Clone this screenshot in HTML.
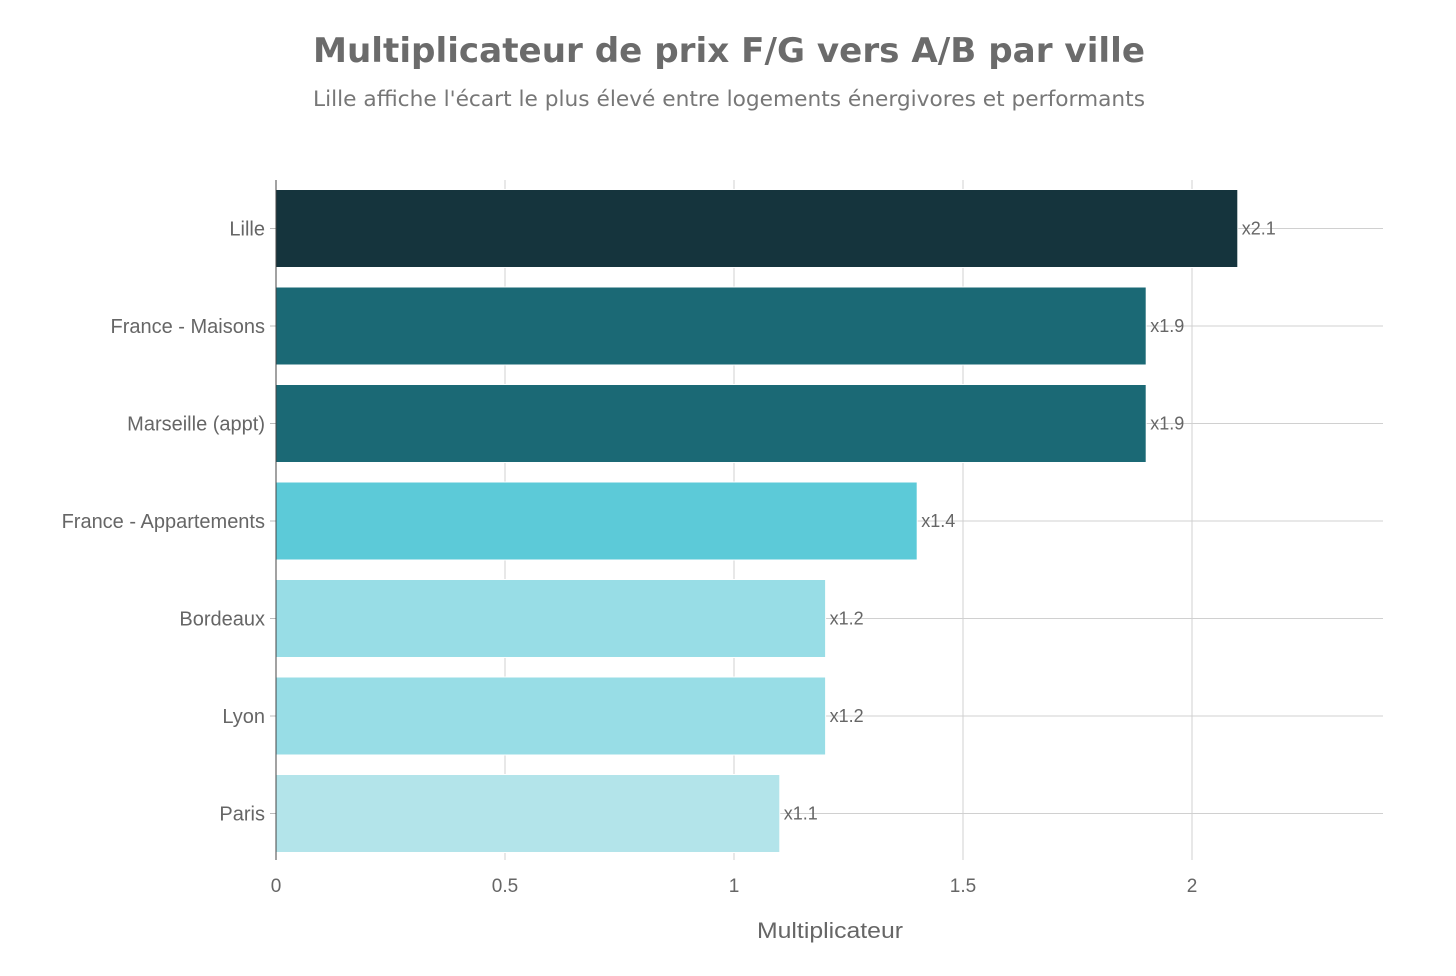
<!DOCTYPE html>
<html><head><meta charset="utf-8"><style>
body{margin:0;background:#fff;}
svg text{font-family:"Liberation Sans",sans-serif;}
</style></head><body>
<svg id="chart" width="1456" height="971" xmlns="http://www.w3.org/2000/svg">
<text x="729" y="62" text-anchor="middle" font-size="34" font-weight="bold" fill="#6b6b6b" textLength="832" lengthAdjust="spacingAndGlyphs" style="font-family:'DejaVu Sans',sans-serif">Multiplicateur de prix F/G vers A/B par ville</text>
<text x="729" y="106" text-anchor="middle" font-size="21" fill="#777" textLength="832" lengthAdjust="spacingAndGlyphs" style="font-family:'DejaVu Sans',sans-serif">Lille affiche l'écart le plus élevé entre logements énergivores et performants</text>
<g id="grid"></g><g id="bars"></g><g id="labels"></g>
<text x="830" y="938" text-anchor="middle" font-size="22" fill="#666" textLength="146" lengthAdjust="spacingAndGlyphs">Multiplicateur</text>
</svg>
<script>
const categories=["Lille","France - Maisons","Marseille (appt)","France - Appartements","Bordeaux","Lyon","Paris"];
const values=[2.1,1.9,1.9,1.4,1.2,1.2,1.1];
const valueLabels=["x2.1","x1.9","x1.9","x1.4","x1.2","x1.2","x1.1"];
const colors=["#15343d","#1b6975","#1b6975","#5ccad8","#98dde6","#98dde6","#b3e4ea"];
const xTicks=[0,0.5,1,1.5,2];
const xTickLabels=["0","0.5","1","1.5","2"];
const NS="http://www.w3.org/2000/svg";
const x0=276,ppu=458,plotRight=1383,top0=180,step=97.5,barH=78;
const xs=v=>x0+v*ppu;
const yc=i=>top0+48.5+i*step;
function mk(t,a,p){const e=document.createElementNS(NS,t);for(const k in a)e.setAttribute(k,a[k]);p.appendChild(e);return e;}
const grid=document.getElementById('grid'),bars=document.getElementById('bars'),labels=document.getElementById('labels');
xTicks.forEach((t,i)=>{
  const l=mk('line',{x1:xs(t),x2:xs(t),y1:top0,y2:860,stroke:'#d0d0d0','stroke-width':1},grid);
  
  
  const tx=mk('text',{x:xs(t),y:892,'text-anchor':'middle','font-size':19,fill:'#666'},grid);
  tx.textContent=xTickLabels[i];
  
  
});
categories.forEach((c,i)=>{
  const g=mk('line',{x1:x0,x2:plotRight,y1:yc(i),y2:yc(i),stroke:'#d0d0d0','stroke-width':1},grid);
  
  
  const tk=mk('line',{x1:x0-6,x2:x0,y1:yc(i),y2:yc(i),stroke:'#bbb','stroke-width':1},grid);
  
  
  const r=mk('rect',{x:x0,y:yc(i)-barH/2,width:xs(values[i])-x0,height:barH,fill:colors[i],stroke:'#fff','stroke-width':1},bars);
  
  
  const yl=mk('text',{x:x0-11,y:yc(i)+7,'text-anchor':'end','font-size':20,fill:'#666'},labels);
  yl.textContent=c;
  
  
  const vl=mk('text',{x:xs(values[i])+4,y:yc(i)+6,'font-size':18,fill:'#666'},labels);
  vl.textContent=valueLabels[i];
  
  
});
const ax=mk('line',{x1:x0,x2:x0,y1:top0,y2:860,stroke:'#444','stroke-width':1},labels);


</script>
</body></html>
